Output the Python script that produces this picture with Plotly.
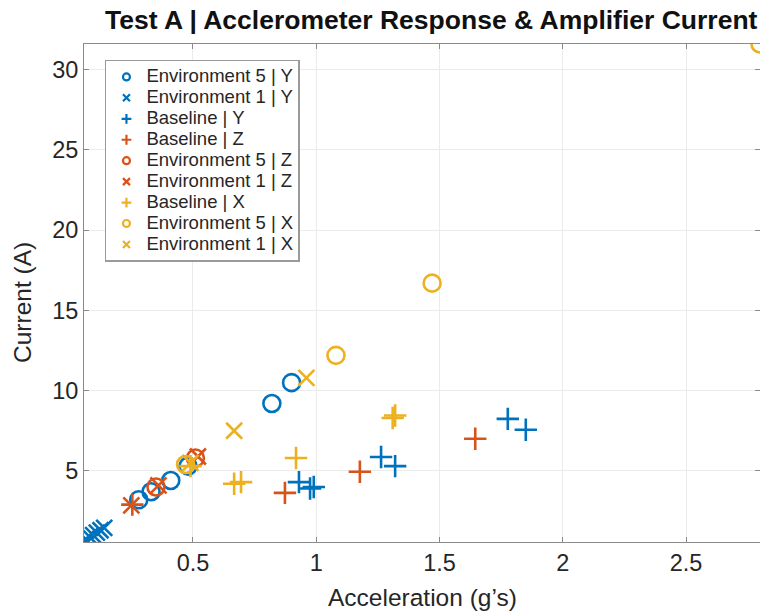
import plotly.graph_objects as go

BLUE = "#0072BD"
RED = "#D95319"
YEL = "#EDB120"

# ---- data (acceleration in g, current in A) ----
env5_y_acc = [0.28, 0.33, 0.41, 0.48, 0.82, 0.90]
env5_y_cur = [3.2, 3.7, 4.4, 5.3, 9.2, 10.5]

env1_y_acc = [0.065, 0.08, 0.095, 0.11, 0.125, 0.14]
env1_y_cur = [0.75, 0.9, 1.0, 1.15, 1.3, 1.45]

base_y_acc = [0.93, 0.975, 0.99, 1.263, 1.32, 1.777, 1.85]
base_y_cur = [4.3, 3.9, 4.0, 5.87, 5.3, 8.24, 7.56]

base_z_acc = [0.254, 0.873, 1.177, 1.645]
base_z_cur = [2.9, 3.63, 4.95, 7.0]

env5_z_acc = [0.35, 0.51]
env5_z_cur = [4.0, 5.8]

env1_z_acc = [0.25, 0.36, 0.52]
env1_z_cur = [2.85, 4.1, 5.9]

base_x_acc = [0.49, 0.667, 0.695, 0.918, 1.31, 1.32]
base_x_cur = [5.3, 4.2, 4.3, 5.8, 8.3, 8.45]

env5_x_acc = [0.47, 1.08, 1.47, 2.80]
env5_x_cur = [5.4, 12.2, 16.7, 31.6]

env1_x_acc = [0.49, 0.667, 0.96]
env1_x_cur = [5.5, 7.5, 10.8]

x_ticks = [0.5, 1, 1.5, 2, 2.5]
x_tick_labels = ["0.5", "1", "1.5", "2", "2.5"]
y_ticks = [5, 10, 15, 20, 25, 30]

series = [
    ("Environment 5 | Y", env5_y_acc, env5_y_cur, BLUE, "circle-open"),
    ("Environment 1 | Y", env1_y_acc, env1_y_cur, BLUE, "x-thin-open"),
    ("Baseline | Y", base_y_acc, base_y_cur, BLUE, "cross-thin-open"),
    ("Baseline | Z", base_z_acc, base_z_cur, RED, "cross-thin-open"),
    ("Environment 5 | Z", env5_z_acc, env5_z_cur, RED, "circle-open"),
    ("Environment 1 | Z", env1_z_acc, env1_z_cur, RED, "x-thin-open"),
    ("Baseline | X", base_x_acc, base_x_cur, YEL, "cross-thin-open"),
    ("Environment 5 | X", env5_x_acc, env5_x_cur, YEL, "circle-open"),
    ("Environment 1 | X", env1_x_acc, env1_x_cur, YEL, "x-thin-open"),
]

FONT = "Liberation Sans, Arial, Helvetica, sans-serif"

fig = go.Figure()
for name, xs, ys, col, sym in series:
    fig.add_trace(go.Scatter(
        x=xs, y=ys, mode="markers", name=name, showlegend=False,
        cliponaxis=True,
        marker=dict(symbol=sym, color=col, size=16 if sym != "circle-open" else 17,
                    line=dict(color=col, width=2.6)),
    ))
# legend entries with small markers
for name, xs, ys, col, sym in series:
    fig.add_trace(go.Scatter(
        x=[None], y=[None], mode="markers",
        name=f'<span style="font-size:18.5px">{name}</span>', showlegend=True,
        marker=dict(symbol=sym, color=col, size=7,
                    line=dict(color=col, width=2.2)),
    ))

axis_common = dict(
    showgrid=True, gridcolor="#ebebeb", gridwidth=1,
    zeroline=False, showline=True, linecolor="#8a8a8a", linewidth=1,
    mirror="ticks", ticks="inside", ticklen=5, tickcolor="#8a8a8a",
    tickfont=dict(family=FONT, size=23.5, color="#262626"),
)

fig.update_layout(
    width=760, height=613,
    margin=dict(l=84, r=0, t=44, b=71),
    paper_bgcolor="white", plot_bgcolor="white",
    xaxis=dict(range=[0.058, 2.8], tickvals=x_ticks, ticktext=x_tick_labels, **axis_common),
    yaxis=dict(range=[0.57, 31.6], tickvals=y_ticks, **axis_common),
    legend=dict(
        x=0.031, y=0.968, xanchor="left", yanchor="top",
        bgcolor="white", bordercolor="#9a9a9a", borderwidth=1.5,
        font=dict(family=FONT, size=13.8, color="#262626"),
        tracegroupgap=0,
    ),
    annotations=[
        dict(text="<b>Test A | Acclerometer Response &amp; Amplifier Current</b>",
             xref="paper", yref="paper", x=0.5135, y=1.0, yshift=24,
             xanchor="center", yanchor="middle", showarrow=False,
             font=dict(family=FONT, size=26.5, color="#111111")),
        dict(text="Acceleration (g’s)", xref="paper", yref="paper",
             x=0.5, y=0, yshift=-55, xanchor="center", yanchor="middle", showarrow=False,
             font=dict(family=FONT, size=24.5, color="#262626")),
        dict(text="Current (A)", xref="paper", yref="paper", textangle=-90,
             x=0, xshift=-62, y=0.5, yshift=-10, xanchor="center", yanchor="middle", showarrow=False,
             font=dict(family=FONT, size=24.5, color="#262626")),
    ],
)

fig.write_html("out.html")
